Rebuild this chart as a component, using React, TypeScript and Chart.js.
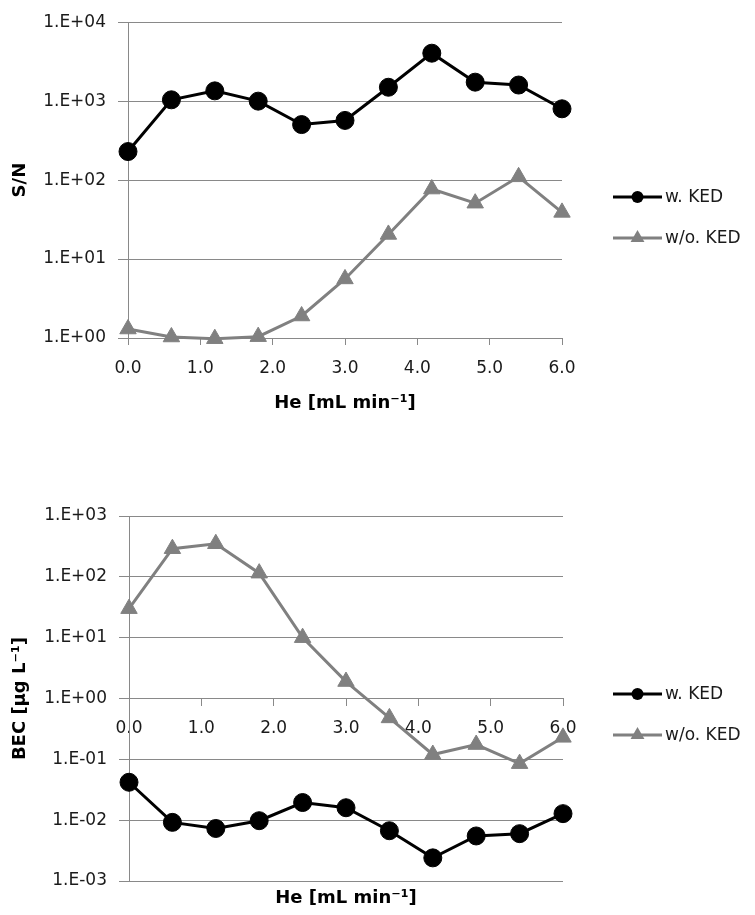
import React, { useEffect, useRef } from 'react';
import { Chart, registerables } from 'chart.js';

Chart.register(...registerables);

// ---- data ----
const heFlow = [0, 0.6, 1.2, 1.8, 2.4, 3.0, 3.6, 4.2, 4.8, 5.4, 6.0];
const snWithKED = [230, 1040, 1350, 1000, 505, 570, 1500, 4050, 1740, 1600, 800];
const snWithoutKED = [1.3, 1.03, 0.98, 1.04, 1.9, 5.6, 20.5, 77, 51, 110, 39];
const becWithKED = [0.042, 0.0092, 0.0073, 0.0098, 0.0195, 0.016, 0.0067, 0.0024, 0.0055, 0.006, 0.0128];
const becWithoutKED = [30, 290, 350, 115, 10, 1.9, 0.48, 0.12, 0.175, 0.085, 0.23];

const xTickValues = [0, 1, 2, 3, 4, 5, 6];
const snTickValues = [1, 10, 100, 1000, 10000];
const becTickValues = [0.001, 0.01, 0.1, 1, 10, 100, 1000];
const seriesLabels = ['w. KED', 'w/o. KED'];
const xTitle = 'He [mL min⁻¹]';
const snTitle = 'S/N';
const becTitle = 'BEC [µg L⁻¹]';

// ---- styles ----
const GRID = '#898989';
const TEXT = '#1a1a1a';
const BLACK = '#000000';
const GRAY = '#808080';
const TICK_FONT = { family: 'DejaVu Sans', size: 17 };
const TITLE_FONT = { family: 'DejaVu Sans', size: 18, weight: 'bold' as const };

function sciLabel(v: number): string {
  const e = Math.round(Math.log10(v));
  return `1.E${e < 0 ? '-' : '+'}${String(Math.abs(e)).padStart(2, '0')}`;
}

const legendPlugin = {
  id: 'kedLegend',
  afterDraw(chart: any, _args: any, opts: any) {
    const ctx = chart.ctx as CanvasRenderingContext2D;
    const { x, rows, length } = opts;
    chart.data.datasets.forEach((ds: any, i: number) => {
      const y = rows[i];
      ctx.save();
      ctx.strokeStyle = ds.borderColor;
      ctx.fillStyle = ds.borderColor;
      ctx.lineWidth = 3;
      ctx.beginPath();
      ctx.moveTo(x, y);
      ctx.lineTo(x + length, y);
      ctx.stroke();
      const cx = x + length / 2;
      ctx.beginPath();
      if (ds.pointStyle === 'triangle') {
        const r = 8;
        let a = 0;
        ctx.moveTo(cx + Math.sin(a) * r, y - Math.cos(a) * r);
        a += (2 * Math.PI) / 3;
        ctx.lineTo(cx + Math.sin(a) * r, y - Math.cos(a) * r);
        a += (2 * Math.PI) / 3;
        ctx.lineTo(cx + Math.sin(a) * r, y - Math.cos(a) * r);
        ctx.closePath();
      } else {
        ctx.arc(cx, y, 6, 0, Math.PI * 2);
      }
      ctx.fill();
      ctx.font = '17px "DejaVu Sans"';
      ctx.fillStyle = TEXT;
      ctx.textBaseline = 'middle';
      ctx.textAlign = 'left';
      ctx.fillText(ds.label, x + length + 3, y + 1);
      ctx.restore();
    });
  },
};

interface Opts {
  withKED: number[];
  withoutKED: number[];
  yTicks: number[];
  yTitle: string;
  xPosition: any;
  padding: { top: number; right: number; bottom: number; left: number };
  xHeight: number;
  yWidth: number;
  xTitlePadBottom: number;
  legendRows: number[];
  xZ: number;
}

function buildConfig(o: Opts): any {
  const yMin = Math.min(...o.yTicks);
  const yMax = Math.max(...o.yTicks);
  return {
    type: 'line',
    data: {
      datasets: [
        {
          label: seriesLabels[0],
          data: heFlow.map((x, i) => ({ x, y: o.withKED[i] })),
          borderColor: BLACK,
          backgroundColor: BLACK,
          borderWidth: 3,
          pointStyle: 'circle',
          pointRadius: 9,
          pointBackgroundColor: BLACK,
          pointBorderColor: BLACK,
          pointBorderWidth: 1,
          tension: 0,
          clip: false,
        },
        {
          label: seriesLabels[1],
          data: heFlow.map((x, i) => ({ x, y: o.withoutKED[i] })),
          borderColor: GRAY,
          backgroundColor: GRAY,
          borderWidth: 3,
          pointStyle: 'triangle',
          pointRadius: 9.5,
          pointBackgroundColor: GRAY,
          pointBorderColor: GRAY,
          pointBorderWidth: 1,
          tension: 0,
          clip: false,
        },
      ],
    },
    options: {
      animation: false,
      responsive: false,
      devicePixelRatio: 1,
      layout: { padding: o.padding },
      plugins: {
        legend: { display: false },
        tooltip: { enabled: false },
        kedLegend: { x: 613, rows: o.legendRows, length: 49 },
      },
      scales: {
        x: {
          type: 'linear',
          position: o.xPosition,
          min: 0,
          max: 6,
          z: o.xZ,
          afterBuildTicks: (s: any) => {
            s.ticks = xTickValues.map((v) => ({ value: v }));
          },
          afterFit: (s: any) => {
            s.height = o.xHeight;
          },
          ticks: {
            font: TICK_FONT,
            color: TEXT,
            padding: 13,
            maxRotation: 0,
            autoSkip: false,
            callback: (v: any) => Number(v).toFixed(1),
          },
          grid: { drawOnChartArea: false, color: GRID, tickLength: 7, lineWidth: 1 },
          border: { display: true, color: GRID, width: 1 },
          title: {
            display: true,
            text: xTitle,
            font: TITLE_FONT,
            color: BLACK,
            padding: { top: 0, bottom: o.xTitlePadBottom },
          },
        },
        y: {
          type: 'logarithmic',
          min: yMin,
          max: yMax,
          afterBuildTicks: (s: any) => {
            s.ticks = o.yTicks.map((v) => ({ value: v }));
          },
          afterFit: (s: any) => {
            s.width = o.yWidth;
          },
          ticks: {
            font: TICK_FONT,
            color: TEXT,
            padding: 12,
            autoSkip: false,
            callback: (v: any) => sciLabel(Number(v)),
          },
          grid: { color: GRID, tickLength: 10, lineWidth: 1 },
          border: { display: true, color: GRID, width: 1 },
          title: {
            display: true,
            text: o.yTitle,
            font: TITLE_FONT,
            color: BLACK,
            padding: { top: 10, bottom: 0 },
          },
        },
      },
    },
    plugins: [legendPlugin],
  };
}

function ChartCanvas({ opts, width, height }: { opts: Opts; width: number; height: number }) {
  const ref = useRef<HTMLCanvasElement>(null);
  useEffect(() => {
    if (!ref.current) return;
    const chart = new Chart(ref.current, buildConfig(opts));
    return () => chart.destroy();
  }, []);
  return (
    <canvas
      ref={ref}
      width={width}
      height={height}
      style={{ display: 'block', width: `${width}px`, height: `${height}px` }}
    />
  );
}

const topOpts: Opts = {
  withKED: snWithKED,
  withoutKED: snWithoutKED,
  yTicks: snTickValues,
  yTitle: snTitle,
  xPosition: 'bottom',
  padding: { top: 18, right: 193, bottom: 0, left: 0 },
  xHeight: 117,
  yWidth: 128,
  xTitlePadBottom: 41,
  legendRows: [197, 238],
  xZ: 0,
};

const bottomOpts: Opts = {
  withKED: becWithKED,
  withoutKED: becWithoutKED,
  yTicks: becTickValues,
  yTitle: becTitle,
  xPosition: { y: 1 },
  padding: { top: 61, right: 192, bottom: 34, left: 0 },
  xHeight: 211,
  yWidth: 129,
  xTitlePadBottom: 0,
  legendRows: [239, 280],
  xZ: 1,
};

export default function App() {
  return (
    <div
      style={{
        position: 'absolute',
        left: 0,
        top: 0,
        width: 755,
        height: 915,
        background: '#ffffff',
      }}
    >
      <ChartCanvas opts={topOpts} width={755} height={455} />
      <ChartCanvas opts={bottomOpts} width={755} height={460} />
    </div>
  );
}
